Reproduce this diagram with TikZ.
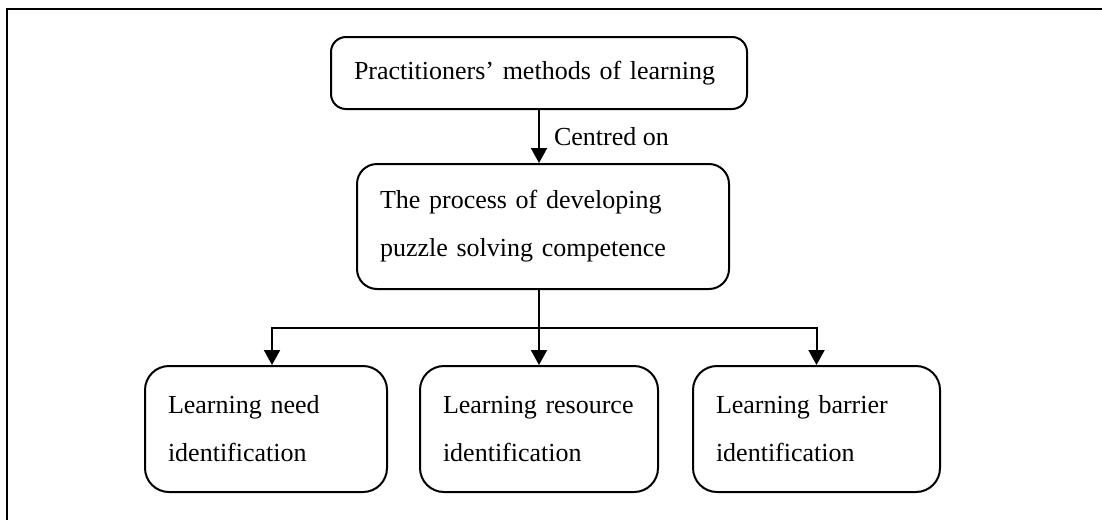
\documentclass[tikz,border=0pt]{standalone}
\usepackage{fontspec}
\setmainfont{Liberation Serif}
\usetikzlibrary{positioning,arrows.meta,calc}
\begin{document}
\begin{tikzpicture}[x=1pt,y=-1pt,
    box/.style={draw,line width=2pt,align=left,inner xsep=23pt,inner ysep=0pt,
      font=\fontsize{26}{48}\selectfont},
    arr/.style={line width=2pt,-{Triangle[length=15pt,width=16pt]}}]
  \useasboundingbox (0,0) rectangle (1102,520);
  \draw [line width=2pt] (7,520) -- (7,9) -- (1102,9);
  \node [box,rounded corners=15pt,minimum width=416pt,minimum height=72pt,text width=370pt]
    (pmeth) at (539,73) {Practitioners’ methods of learning};
  \node [box,rounded corners=20pt,minimum width=372pt,minimum height=125pt,text width=326pt]
    (proc) at (543,226.5) {The process of developing\\puzzle solving competence};
  \node [box,rounded corners=24pt,minimum width=242pt,minimum height=126pt,text width=196pt]
    (need) at (266,429) {Learning need\\identification};
  \node [box,rounded corners=24pt,minimum width=238pt,minimum height=126pt,text width=192pt]
    (res) at (539,429) {Learning resource\\identification};
  \node [box,rounded corners=24pt,minimum width=247pt,minimum height=126pt,text width=201pt]
    (bar) at (816.5,429) {Learning barrier\\identification};
  \draw [arr] (pmeth.south) -- (pmeth.south |- proc.north)
    node [midway,right=12pt,inner sep=2pt,font=\fontsize{26}{30}\selectfont] (cen) {Centred on};
  \coordinate (fork) at ($(res.north |- proc.south)!.5!(res.north)$);
  \draw [line width=2pt] (res.north |- proc.south) -- (fork);
  \draw [arr] (fork) -| ([xshift=6pt]need.north);
  \draw [arr] (fork) -- (res.north);
  \draw [arr] (fork) -| (bar.north);
\end{tikzpicture}
\end{document}
